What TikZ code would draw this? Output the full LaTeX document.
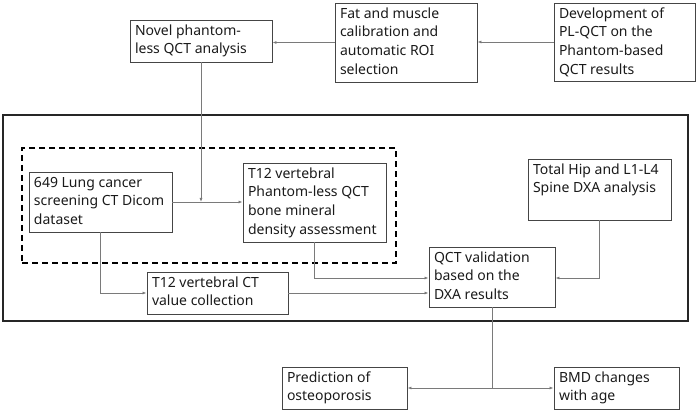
\documentclass[tikz,border=0pt]{standalone}
\usepackage{fontspec}
\setmainfont{Noto Sans}
\usetikzlibrary{arrows.meta}
\definecolor{boxline}{HTML}{454545}
\definecolor{conn}{HTML}{7A7A7A}
\definecolor{txt}{HTML}{1A1A1A}
\newcommand{\bxt}[3]{\parbox[c][#2][t]{#1}{\raggedright\strut #3}}
\tikzset{
  box/.style={draw=boxline, line width=0.9pt, inner sep=0pt, text=txt, font=\fontsize{14}{18.8}\selectfont},
  conline/.style={draw=conn, line width=0.8pt},
  arr/.style={conline, -{Latex[length=4pt,width=3pt]}},
  frame/.style={draw=black!85, line width=1.3pt, inner sep=0pt},
  dframe/.style={draw=black, line width=1.2pt, dash pattern=on 6pt off 4pt, inner sep=0pt}
}
\begin{document}
\begin{tikzpicture}[x=1pt,y=-1pt]
\useasboundingbox (0,0) rectangle (699,411);
% frames
\node[frame, minimum width=685pt, minimum height=206pt] (outer) at (345.5,218) {};
\node[dframe, minimum width=374pt, minimum height=115pt] (dash) at (209,205.5) {};
% boxes
\node[box, minimum width=142pt, minimum height=42pt] (A) at (201,41) {\bxt{132pt}{38pt}{Novel phantom-\\less QCT analysis}};
\node[box, minimum width=142pt, minimum height=79pt] (B) at (406,42.5) {\bxt{132pt}{75pt}{Fat and muscle\\calibration and\\automatic ROI\\selection}};
\node[box, minimum width=141pt, minimum height=78pt] (C) at (624.5,42) {\bxt{131pt}{74pt}{Development of\\PL-QCT on the\\Phantom-based\\QCT results}};
\node[box, minimum width=143pt, minimum height=60pt] (D) at (100.5,202) {\bxt{133pt}{56pt}{649 Lung cancer\\screening CT Dicom\\dataset}};
\node[box, minimum width=143pt, minimum height=79pt] (E) at (314.5,202.5) {\bxt{133pt}{75pt}{T12 vertebral\\Phantom-less QCT\\bone mineral\\density assessment}};
\node[box, minimum width=141pt, minimum height=42pt] (F) at (217.5,293) {\bxt{131pt}{38pt}{T12 vertebral CT\\value collection}};
\node[box, minimum width=126pt, minimum height=60pt] (G) at (492,277) {\bxt{116pt}{56pt}{QCT validation\\based on the\\DXA results}};
\node[box, minimum width=143pt, minimum height=61pt] (H) at (599.5,189.5) {\bxt{133pt}{57pt}{Total Hip and L1-L4\\Spine DXA analysis}};
\node[box, minimum width=125pt, minimum height=42pt] (I) at (344.5,388) {\bxt{115pt}{38pt}{Prediction of\\osteoporosis}};
\node[box, minimum width=125pt, minimum height=42pt] (J) at (616.5,388) {\bxt{115pt}{38pt}{BMD changes\\with age}};
% junctions
\coordinate (j1) at (A.south |- D.east);
\coordinate (j2) at (G.south |- I.east);
% connectors
\draw[arr] (C.west) -- (C.west -| B.east);
\draw[arr] (B.west) -- (B.west -| A.east);
\draw[arr] (D.east) -- (D.east -| E.west);
\draw[arr] (A.south) -- (j1);
\draw[arr] (D.south) |- (F.west);
\draw[arr] (E.south) |- ([yshift=-1pt]G.west);
\draw[arr] (F.east) -- (F.east -| G.west);
\draw[arr] (H.south) |- ([yshift=-1pt]G.east);
\draw[conline] (G.south) -- (j2);
\draw[arr] (j2) -- (I.east);
\draw[arr] (j2) -- (J.west);
\end{tikzpicture}
\end{document}
